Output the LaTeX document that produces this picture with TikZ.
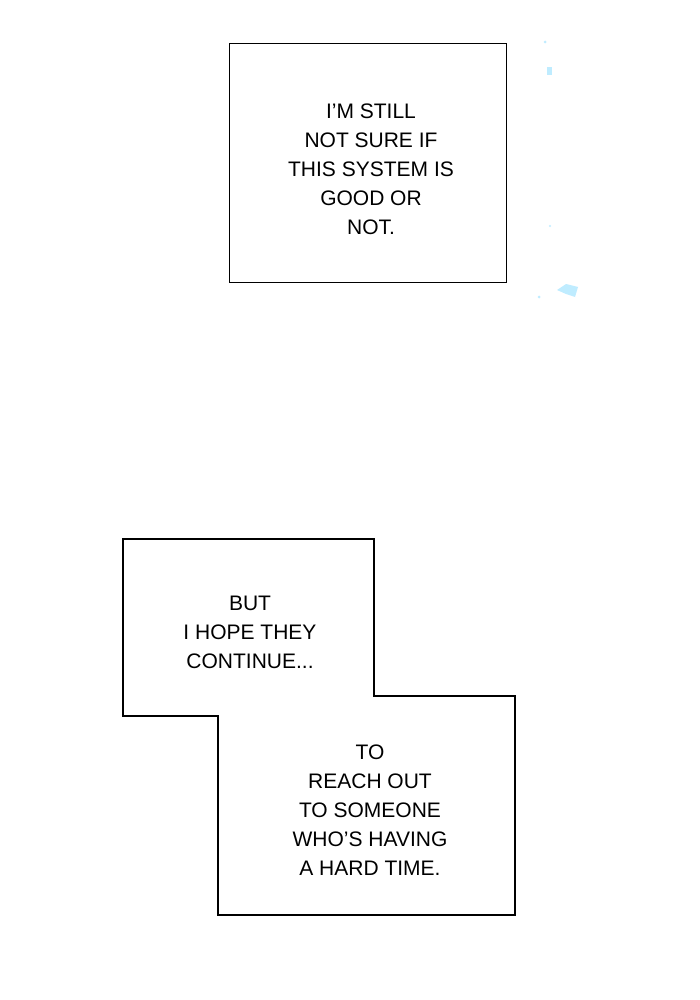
\documentclass[tikz,border=0pt]{standalone}
\usepackage{fontspec}
\setmainfont{Liberation Sans}
\begin{document}
\begin{tikzpicture}[x=1pt,y=-1pt,
  panel/.style={draw=black,line width=1.4pt,fill=white},
  txt/.style={align=center,font=\fontsize{21}{29}\selectfont,inner sep=0pt},
  speck/.style={fill=blue!30!cyan!25,draw=none}]
\useasboundingbox (0,0) rectangle (700,1000);
\fill[white] (0,0) rectangle (700,1000);
\node[panel,minimum width=277pt,minimum height=239pt,anchor=north west] (p1) at (229,43) {};
\node[txt] (t1) at (371,169) {I'M STILL\\NOT SURE IF\\THIS SYSTEM IS\\GOOD OR\\NOT.};
\draw[panel] (123,539) -- (374,539) -- (374,696) -- (515,696) -- (515,915) -- (218,915) -- (218,716) -- (123,716) -- cycle;
\node[txt] (t2) at (250,632) {BUT\\I HOPE THEY\\CONTINUE...};
\node[txt] (t3) at (370,810) {TO\\REACH OUT\\TO SOMEONE\\WHO'S HAVING\\A HARD TIME.};
\fill[speck] (545,42) circle (1.5);
\fill[speck] (547,67) rectangle (552,75);
\fill[speck] (550,226) circle (1.2);
\fill[speck] (557,290) -- (566,284) -- (578,287) -- (575,297) -- (566,294) -- cycle;
\fill[speck] (539,297) circle (1.5);
\end{tikzpicture}
\end{document}
